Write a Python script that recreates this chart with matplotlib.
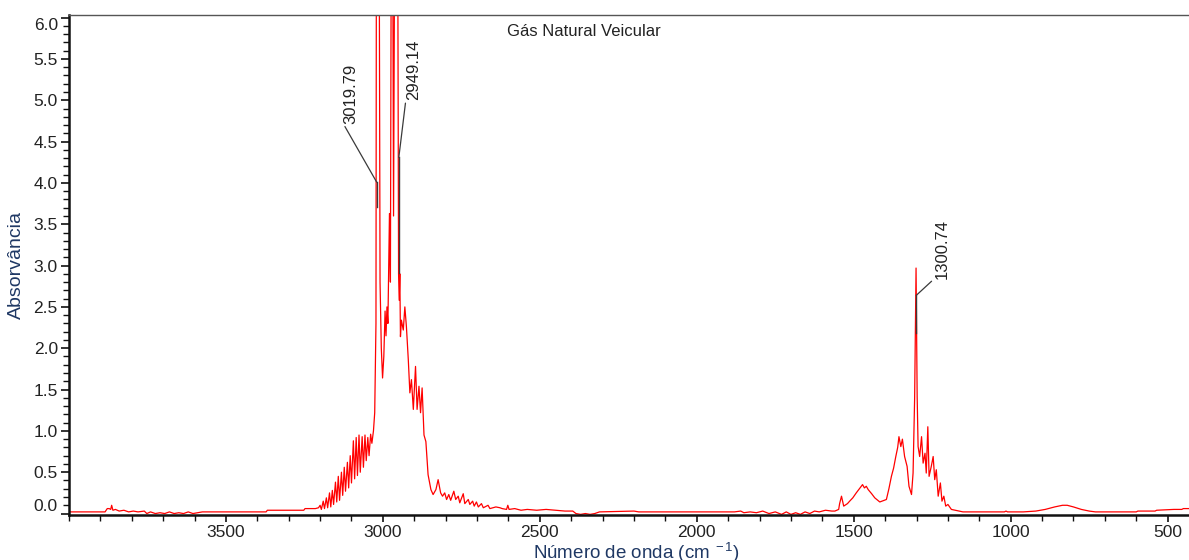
import matplotlib
matplotlib.use("Agg")
import matplotlib.pyplot as plt
from matplotlib.ticker import MultipleLocator, FormatStrFormatter

# ── Spectrum data (wavenumber in cm-1, absorbance) ─────────────
# 4000-3200: flat baseline with small water-vapour noise
base_wn  = [4000, 3960, 3920, 3885, 3878, 3872, 3867, 3864, 3860, 3852, 3840,
            3825, 3810, 3795, 3780, 3760, 3752, 3740, 3725, 3710, 3695, 3680,
            3665, 3650, 3635, 3620, 3605, 3590, 3575, 3562, 3500, 3400, 3372,
            3368, 3300, 3252, 3248, 3215, 3205]
base_abs = [0.02, 0.02, 0.02, 0.02, 0.06, 0.06, 0.05, 0.10, 0.04, 0.05, 0.03,
            0.04, 0.02, 0.03, 0.02, 0.03, 0.00, 0.02, 0.00, 0.01, 0.00, 0.02,
            0.00, 0.01, 0.00, 0.02, 0.00, 0.01, 0.02, 0.02, 0.02, 0.02, 0.02,
            0.04, 0.04, 0.04, 0.06, 0.06, 0.07]

# R branch of the C-H stretch band
rbr_wn  = [3200, 3196, 3190, 3186, 3180, 3176, 3170, 3166, 3161, 3157, 3151,
           3147, 3142, 3138, 3132, 3128, 3123, 3119, 3113, 3109, 3104, 3100,
           3094, 3090, 3085, 3081, 3076, 3072, 3066, 3062, 3057, 3053, 3048,
           3044, 3039, 3035, 3030]
rbr_abs = [0.10, 0.05, 0.15, 0.06, 0.19, 0.07, 0.25, 0.08, 0.28, 0.11, 0.38,
           0.14, 0.45, 0.16, 0.50, 0.22, 0.56, 0.27, 0.62, 0.31, 0.70, 0.37,
           0.88, 0.42, 0.92, 0.46, 0.95, 0.50, 0.93, 0.56, 0.95, 0.64, 0.92,
           0.70, 0.96, 0.85, 1.00]

# Q branches (saturated, above the plotted range)
qbr_wn  = [3026, 3022, 3020.5, 3012, 3009, 3005, 3001, 2997, 2993, 2990, 2987,
           2984, 2979, 2976, 2973, 2969, 2966, 2962, 2953, 2950, 2948, 2946]
qbr_abs = [1.22, 2.30, 7.50, 7.50, 2.80, 2.00, 1.64, 1.90, 2.45, 2.15, 2.50,
           2.30, 3.63, 2.80, 7.50, 7.50, 3.60, 7.50, 7.50, 2.90, 2.58, 2.90]

# P branch and tail
pbr_wn  = [2944, 2941, 2935, 2930, 2925, 2919, 2914, 2909, 2903, 2896, 2891,
           2885, 2880, 2875, 2869, 2863, 2856, 2847, 2840, 2831, 2824, 2816,
           2810, 2803, 2797, 2790, 2784, 2774, 2768, 2760, 2755, 2744, 2739,
           2728, 2723, 2714, 2709, 2702, 2696, 2686, 2680, 2665, 2659, 2640,
           2627]
pbr_abs = [2.14, 2.34, 2.22, 2.50, 2.26, 1.86, 1.46, 1.62, 1.26, 1.78, 1.26,
           1.54, 1.22, 1.52, 0.95, 0.87, 0.47, 0.29, 0.23, 0.29, 0.41, 0.25,
           0.21, 0.25, 0.17, 0.23, 0.16, 0.27, 0.17, 0.21, 0.13, 0.24, 0.12,
           0.17, 0.11, 0.15, 0.09, 0.14, 0.08, 0.12, 0.07, 0.10, 0.06, 0.08,
           0.07]

# 2620-1560: baseline, CO2 dip, water noise
mid_wn  = [2620, 2606, 2602, 2598, 2580, 2560, 2540, 2510, 2480, 2450, 2420,
           2395, 2385, 2370, 2355, 2340, 2325, 2310, 2200, 2185, 1880, 1860,
           1850, 1830, 1810, 1790, 1770, 1750, 1730, 1715, 1700, 1685, 1670,
           1655, 1640, 1625, 1610, 1590, 1570, 1560]
mid_abs = [0.06, 0.05, 0.10, 0.05, 0.06, 0.04, 0.05, 0.04, 0.05, 0.04, 0.03,
           0.03, 0.00, -0.01, 0.00, -0.01, 0.00, 0.02, 0.03, 0.02, 0.02, 0.03,
           0.01, 0.02, 0.01, 0.03, 0.00, 0.02, -0.01, 0.02, -0.01, 0.01, -0.01,
           0.02, 0.00, 0.03, 0.02, 0.04, 0.03, 0.03]

# C-H bending band around 1300
bend_wn  = [1548, 1545, 1539, 1532, 1520, 1513, 1503, 1492, 1480, 1472, 1466,
            1460, 1454, 1443, 1433, 1417, 1396, 1388, 1380, 1373, 1366, 1360,
            1356, 1350, 1345, 1338, 1330, 1324, 1316, 1311, 1306, 1301.5, 1298,
            1295, 1290, 1284, 1279, 1273, 1269, 1264, 1260, 1253, 1247, 1242,
            1237, 1231, 1224, 1219, 1213, 1207, 1200, 1189, 1152]
bend_abs = [0.05, 0.12, 0.21, 0.09, 0.12, 0.15, 0.19, 0.25, 0.31, 0.35, 0.31,
            0.33, 0.29, 0.24, 0.19, 0.14, 0.17, 0.30, 0.45, 0.55, 0.69, 0.80,
            0.93, 0.81, 0.90, 0.69, 0.57, 0.33, 0.23, 0.49, 1.40, 2.97, 1.42,
            0.81, 0.69, 0.93, 0.61, 0.73, 0.49, 1.05, 0.45, 0.57, 0.69, 0.41,
            0.53, 0.21, 0.37, 0.15, 0.21, 0.09, 0.11, 0.05, 0.02]

# low-wavenumber tail
tail_wn  = [1100, 1020, 1015, 1010, 960, 920, 890, 860, 835, 820, 800, 775,
            750, 730, 600, 595, 540, 535, 480, 455, 450, 432]
tail_abs = [0.02, 0.02, 0.03, 0.02, 0.02, 0.03, 0.05, 0.08, 0.10, 0.10, 0.08,
            0.05, 0.03, 0.02, 0.02, 0.03, 0.03, 0.04, 0.05, 0.05, 0.06, 0.06]

wavenumber = base_wn + rbr_wn + qbr_wn + pbr_wn + mid_wn + bend_wn + tail_wn
absorbance = base_abs + rbr_abs + qbr_abs + pbr_abs + mid_abs + bend_abs + tail_abs

# picked peaks: position, height of the marker, label offset (points)
peak_pos    = [3019.79, 2949.14, 1300.74]
peak_mark   = [4.01, 4.31, 2.64]
peak_drop   = [0.30, 1.40, 0.45]
peak_offset = [(-24, 42), (5, 41), (13, 12)]

TITLE  = "Gás Natural Veicular"
XLABEL = "Número de onda (cm$^{\\ -1}$)"
YLABEL = "Absorvância"

LABEL_BLUE = "#1F3864"
TEXT_DARK  = "#222222"

# ── Plot ───────────────────────────────────────────────
plt.rcParams["font.family"] = ["Liberation Sans", "DejaVu Sans"]
plt.rcParams["mathtext.fontset"] = "custom"
plt.rcParams["mathtext.rm"] = "Liberation Sans"
plt.rcParams["mathtext.it"] = "Liberation Sans"

fig = plt.figure(figsize=(11.89, 5.6), dpi=100)
ax = fig.add_axes([0.058, 0.080, 0.942, 0.893])

ax.plot(wavenumber, absorbance, color="#FF0000", lw=0.9)

ax.set_xlim(4000, 432)
ax.set_ylim(-0.02, 6.03)

for pos, mark, drop, off, in zip(peak_pos, peak_mark, peak_drop, peak_offset):
    ax.plot([pos, pos], [mark - drop, mark], color="#3a3a3a", lw=1.0)
    ax.annotate(f"{pos:.2f}", xy=(pos, mark), xytext=off,
                textcoords="offset points", rotation=90,
                ha="left", va="bottom", fontsize=12, color=TEXT_DARK,
                arrowprops=dict(arrowstyle="-", color="#3a3a3a", lw=0.9,
                                relpos=(0, 0), shrinkA=0, shrinkB=0))

ax.text(0.46, 0.968, TITLE, transform=ax.transAxes, ha="center", va="center",
        fontsize=12, color=TEXT_DARK)

# axes styling
ax.set_xticks([3500, 3000, 2500, 2000, 1500, 1000, 500])
ax.xaxis.set_minor_locator(MultipleLocator(100))
ax.set_yticks([i * 0.5 for i in range(13)])
ax.yaxis.set_minor_locator(MultipleLocator(0.1))
ax.yaxis.set_major_formatter(FormatStrFormatter("%.1f"))

narrow = ["Liberation Sans Narrow", "Liberation Sans"]
for lab in ax.get_xticklabels() + ax.get_yticklabels():
    lab.set_family(narrow)
    lab.set_fontsize(12.5)
    lab.set_color(TEXT_DARK)

ax.tick_params(axis="both", which="major", direction="out", length=6,
               width=1.2, color="#111111", pad=2)
ax.tick_params(axis="both", which="minor", direction="out", length=4,
               width=1.0, color="#111111")
ax.tick_params(axis="x", which="major", length=5, pad=2)

# keep the end labels inside the frame
yticks = ax.yaxis.get_major_ticks()
yticks[0].label1.set_va("bottom")
yticks[-1].label1.set_va("top")

for side in ("left", "bottom"):
    ax.spines[side].set_linewidth(1.8)
    ax.spines[side].set_color("#111111")
ax.spines["top"].set_linewidth(1.0)
ax.spines["top"].set_color("#555555")
ax.spines["right"].set_visible(False)

ax.set_xlabel(XLABEL, fontsize=13.5, color=LABEL_BLUE, labelpad=1)
ax.set_ylabel(YLABEL, fontsize=14, color=LABEL_BLUE, labelpad=6)
ax.xaxis.set_label_coords(0.507, -0.052)

fig.savefig("out.png", dpi=100)
